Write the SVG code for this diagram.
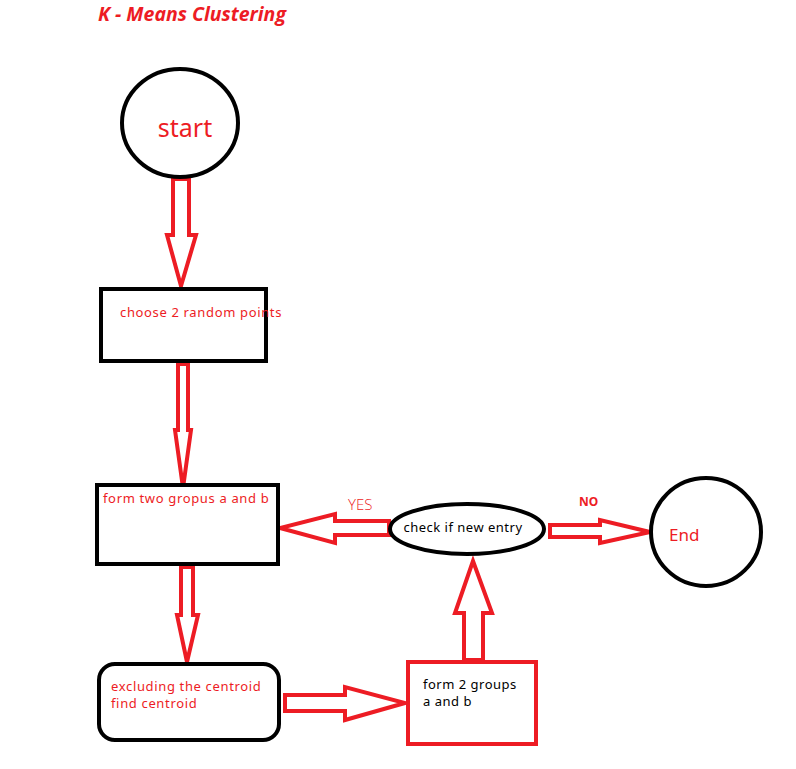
<svg xmlns="http://www.w3.org/2000/svg" width="796" height="769" viewBox="0 0 796 769">
  <style>
    .bk { fill: #fff; stroke: #000; stroke-width: 4; }
    .rd { fill: #fff; stroke: #ED1C24; stroke-width: 4; }
    .arr { fill: #fff; stroke: #ED1C24; stroke-width: 4; stroke-linejoin: miter; }
    .t { font-family: "Noto Sans", "Open Sans", "Liberation Sans", sans-serif; font-size: 13px; letter-spacing: 0.65px; fill: #ED1C24; }
    .tb { font-family: "Noto Sans", "Open Sans", "Liberation Sans", sans-serif; font-size: 13px; letter-spacing: 0.5px; fill: #000; }
  </style>
  <rect width="796" height="769" fill="#fff"/>
  <text x="98" y="21" font-family="'Open Sans', 'Noto Sans', sans-serif" font-size="19.5" font-weight="bold" font-style="italic" fill="#ED1C24">K - Means Clustering</text>

  <g id="connectors">
    <polygon class="arr" points="173,179 189,179 189,235 196,235 181,286 167,235 173,235"/>
    <polygon class="arr" points="178,364 188,364 188,430 191,430 183,488 175,430 178,430"/>
    <polygon class="arr" points="181,567 193,567 193,615 198,615 187,662 177,615 181,615"/>
    <polygon class="arr" points="285,695 345,695 345,687 405,703 345,720 345,711 285,711"/>
    <polygon class="arr" points="464,660 483,660 483,613 492,613 473,561 455,613 464,613"/>
    <polygon class="arr" points="389,521 335,521 335,514 280,528 335,543 335,535 389,535"/>
    <polygon class="arr" points="550,525 600,525 600,520 650,532 600,543 600,537 550,537"/>
    <text x="348" y="510" font-family="'Open Sans', 'Noto Sans', sans-serif" font-size="15" font-weight="300" fill="#ED1C24">YES</text>
    <text x="579" y="506" font-family="'Noto Sans', 'Open Sans', sans-serif" font-weight="bold" font-size="12" fill="#ED1C24">NO</text>
  </g>

  <g id="start">
    <ellipse class="bk" cx="180" cy="123" rx="58" ry="54"/>
    <text x="185" y="137" text-anchor="middle" font-family="'Noto Sans', 'Open Sans', sans-serif" font-size="25" fill="#ED1C24">start</text>
  </g>

  <g id="choose">
    <rect class="bk" x="101" y="289" width="165" height="72"/>
    <text x="120" y="317" class="t">choose 2 random points</text>
  </g>

  <g id="form-groups">
    <rect class="bk" x="97" y="485" width="181" height="79"/>
    <text x="103" y="503" class="t">form two gropus a and b</text>
  </g>

  <g id="centroid">
    <rect class="bk" x="99" y="664" width="180" height="76" rx="16" ry="16"/>
    <text x="111" y="691" class="t">excluding the centroid</text>
    <text x="111" y="708" class="t">find centroid</text>
  </g>

  <g id="form-2-groups">
    <rect class="rd" x="408" y="662" width="128" height="82"/>
    <text x="423" y="689" class="tb">form 2 groups</text>
    <text x="423" y="706" class="tb">a and b</text>
  </g>

  <g id="check">
    <ellipse class="bk" cx="467" cy="529" rx="77" ry="25"/>
    <text x="463" y="532" text-anchor="middle" class="tb">check if new entry</text>
  </g>

  <g id="end">
    <ellipse class="bk" cx="706" cy="532" rx="55" ry="54"/>
    <text x="669" y="541" font-family="'Noto Sans', 'Open Sans', sans-serif" font-size="17" fill="#ED1C24">End</text>
  </g>
</svg>
